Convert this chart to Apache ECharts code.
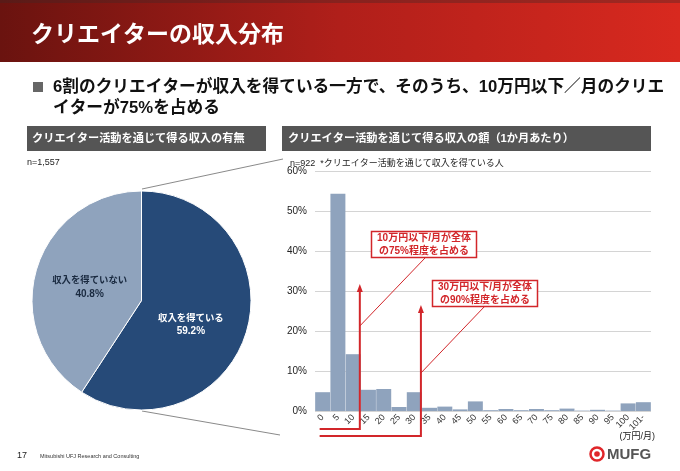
<!DOCTYPE html>
<html>
<head>
<meta charset="utf-8">
<script src="https://cdn.jsdelivr.net/npm/echarts@6/dist/echarts.min.js"></script>
<style>
html,body{margin:0;padding:0;background:#fff;}
#chart{width:680px;height:471px;}
</style>
</head>
<body>
<div id="chart"></div>
<script>
// ---- data ----
const pieNames = ['収入を得ている', '収入を得ていない'];
const pieValues = [59.2, 40.8];

const incomeCategories = ['0','5','10','15','20','25','30','35','40','45','50','55','60','65','70','75','80','85','90','95','100','101-'];
const incomeShares = [4.7, 54.3, 14.2, 5.3, 5.5, 1.0, 4.7, 0.8, 1.1, 0.4, 2.4, 0.2, 0.5, 0.2, 0.5, 0.2, 0.6, 0.1, 0.3, 0.1, 1.9, 2.2];
const yTicks = [0, 10, 20, 30, 40, 50, 60];

const titleText = 'クリエイターの収入分布';
const subtitleLines = ['6割のクリエイターが収入を得ている一方で、そのうち、10万円以下／月のクリエ', 'イターが75%を占める'];
const leftHeader = 'クリエイター活動を通じて得る収入の有無';
const rightHeader = 'クリエイター活動を通じて得る収入の額（1か月あたり）';
const noteLeft = 'n=1,557';
const noteRight = 'n=922  *クリエイター活動を通じて収入を得ている人';
const anno1 = ['10万円以下/月が全体', 'の75%程度を占める'];
const anno2 = ['30万円以下/月が全体', 'の90%程度を占める'];
const anno1Cat = '10';
const anno2Cat = '30';

const FONT = '"Liberation Sans","Noto Sans CJK JP",sans-serif';
const RED = '#d2262a';
const DARK = '#264a78';
const LIGHT = '#8fa3bd';

const chart = echarts.init(document.getElementById('chart'), null, {renderer: 'canvas', width: 680, height: 471});

chart.setOption({
  backgroundColor: '#ffffff',
  animation: false,
  textStyle: {fontFamily: FONT},
  grid: {left: 315, right: 29, top: 171, bottom: 60, containLabel: false},
  xAxis: {
    type: 'category',
    data: incomeCategories,
    boundaryGap: true,
    axisLine: {show: false},
    axisTick: {show: false},
    axisLabel: {interval: 0, rotate: 45, fontSize: 9, color: '#333', margin: 5, fontFamily: FONT}
  },
  yAxis: {
    type: 'value',
    min: yTicks[0],
    max: yTicks[yTicks.length - 1],
    interval: 10,
    axisLine: {show: false},
    axisTick: {show: false},
    axisLabel: {formatter: '{value}%', fontSize: 10, color: '#222', margin: 8, fontFamily: FONT},
    splitLine: {lineStyle: {color: '#d4d4d4', width: 1}}
  },
  series: [
    {
      type: 'bar',
      data: incomeShares,
      barCategoryGap: '2%',
      itemStyle: {color: LIGHT},
      silent: true
    },
    {
      type: 'pie',
      center: [141.5, 300.5],
      radius: 109.5,
      startAngle: 90,
      clockwise: true,
      silent: true,
      itemStyle: {borderColor: '#ffffff', borderWidth: 1},
      labelLine: {show: false},
      data: [
        {name: pieNames[0], value: pieValues[0], itemStyle: {color: DARK},
          label: {color: '#ffffff', offset: [-6, 8]}},
        {name: pieNames[1], value: pieValues[1], itemStyle: {color: LIGHT},
          label: {color: '#1a2a40', offset: [3.5, 3.5]}}
      ],
      label: {
        show: true,
        position: 'inside',
        formatter: '{n|{b}}\n{v|{c}%}',
        fontWeight: 'bold',
        fontFamily: FONT,
        rich: {
          n: {fontSize: 9.4, fontWeight: 'bold', lineHeight: 13.3, fontFamily: FONT},
          v: {fontSize: 10, fontWeight: 'bold', lineHeight: 13.3, fontFamily: FONT}
        }
      }
    }
  ]
});

// compute annotation x positions from the axis
const nCat = incomeCategories.length;
const band = (680 - 29 - 315) / nCat;
function rightEdge(cat) {
  return chart.convertToPixel({xAxisIndex: 0}, cat) + band / 2;
}
const x0 = chart.convertToPixel({xAxisIndex: 0}, incomeCategories[0]) - 3;
const x1 = rightEdge(anno1Cat) - 1;
const x2 = rightEdge(anno2Cat) - 1;

function arrow(x, y) {
  return {type: 'polygon', shape: {points: [[x - 3, y + 8], [x, y], [x + 3, y + 8]]}, style: {fill: RED}, z: 20};
}
function annoBox(x, y, w, h, lines) {
  return [
    {type: 'rect', shape: {x: x, y: y, width: w, height: h}, style: {fill: '#fff', stroke: RED, lineWidth: 1.5}, z: 20},
    {type: 'text', x: x + w / 2, y: y + h / 2, z: 21,
      style: {text: lines.join('\n'), align: 'center', verticalAlign: 'middle', fill: RED,
        font: 'bold 10px ' + FONT, lineHeight: 12.5}}
  ];
}

const g = [];
// header band
g.push({type: 'rect', shape: {x: 0, y: 0, width: 680, height: 62}, z: 1,
  style: {fill: new echarts.graphic.LinearGradient(0, 0, 1, 0, [
    {offset: 0, color: '#6a130f'}, {offset: 0.5, color: '#b01f1a'}, {offset: 1, color: '#d8291f'}])}});
g.push({type: 'rect', shape: {x: 0, y: 0, width: 680, height: 3}, z: 2, style: {fill: 'rgba(60,40,40,0.35)'}});
g.push({type: 'text', x: 31, y: 36, z: 3, style: {text: titleText, fill: '#fff', font: 'bold 23px ' + FONT, verticalAlign: 'middle'}});
// subtitle
g.push({type: 'rect', shape: {x: 33, y: 82, width: 10, height: 10}, style: {fill: '#666'}});
g.push({type: 'text', x: 53, y: 87, style: {text: subtitleLines[0], fill: '#111', font: 'bold 16.7px ' + FONT, verticalAlign: 'middle'}});
g.push({type: 'text', x: 53, y: 108, style: {text: subtitleLines[1], fill: '#111', font: 'bold 16.7px ' + FONT, verticalAlign: 'middle'}});
// section headers
g.push({type: 'rect', shape: {x: 27, y: 126, width: 239, height: 25}, style: {fill: '#555555'}});
g.push({type: 'text', x: 32, y: 138.5, style: {text: leftHeader, fill: '#fff', font: 'bold 11.2px ' + FONT, verticalAlign: 'middle'}});
g.push({type: 'rect', shape: {x: 282, y: 126, width: 369, height: 25}, style: {fill: '#555555'}});
g.push({type: 'text', x: 288, y: 138.5, style: {text: rightHeader, fill: '#fff', font: 'bold 11.2px ' + FONT, verticalAlign: 'middle'}});
// notes
g.push({type: 'text', x: 27, y: 163, style: {text: noteLeft, fill: '#222', font: '9px ' + FONT, verticalAlign: 'middle'}});
g.push({type: 'text', x: 290, y: 164, style: {text: noteRight, fill: '#222', font: '9px ' + FONT, verticalAlign: 'middle'}});
// connector lines pie -> bar panel
g.push({type: 'line', shape: {x1: 142, y1: 189, x2: 283, y2: 159}, style: {stroke: '#8a8a8a', lineWidth: 1}});
g.push({type: 'line', shape: {x1: 142, y1: 411, x2: 280, y2: 435}, style: {stroke: '#8a8a8a', lineWidth: 1}});
// brackets
g.push({type: 'polyline', shape: {points: [[x0, 429], [x1, 429], [x1, 291]]}, style: {stroke: RED, lineWidth: 2, fill: null}, z: 20});
g.push(arrow(x1, 284));
g.push({type: 'polyline', shape: {points: [[x0, 436], [x2, 436], [x2, 312]]}, style: {stroke: RED, lineWidth: 2, fill: null}, z: 20});
g.push(arrow(x2, 305));
// connectors from boxes
g.push({type: 'line', shape: {x1: 425, y1: 258, x2: x1, y2: 326}, style: {stroke: RED, lineWidth: 1}, z: 19});
g.push({type: 'line', shape: {x1: 485, y1: 306, x2: x2, y2: 373}, style: {stroke: RED, lineWidth: 1}, z: 19});
annoBox(371.5, 231.5, 105, 26, anno1).forEach(e => g.push(e));
annoBox(432.5, 280.5, 105, 26, anno2).forEach(e => g.push(e));
// unit
g.push({type: 'text', x: 655, y: 437, style: {text: '(万円/月)', fill: '#222', font: '9px ' + FONT, align: 'right', verticalAlign: 'middle'}});
// footer
g.push({type: 'text', x: 17, y: 456, style: {text: '17', fill: '#222', font: '9px ' + FONT, verticalAlign: 'middle'}});
g.push({type: 'text', x: 40, y: 456, style: {text: 'Mitsubishi UFJ Research and Consulting', fill: '#333', font: '5.5px ' + FONT, verticalAlign: 'middle'}});
g.push({type: 'circle', shape: {cx: 597, cy: 454, r: 6.5}, style: {fill: null, stroke: '#e0262a', lineWidth: 2.5}});
g.push({type: 'circle', shape: {cx: 597, cy: 454, r: 2.8}, style: {fill: '#e0262a'}});
g.push({type: 'text', x: 607, y: 454.5, style: {text: 'MUFG', fill: '#555', font: 'bold 15px ' + FONT, verticalAlign: 'middle'}});

chart.setOption({graphic: g});
</script>
</body>
</html>
